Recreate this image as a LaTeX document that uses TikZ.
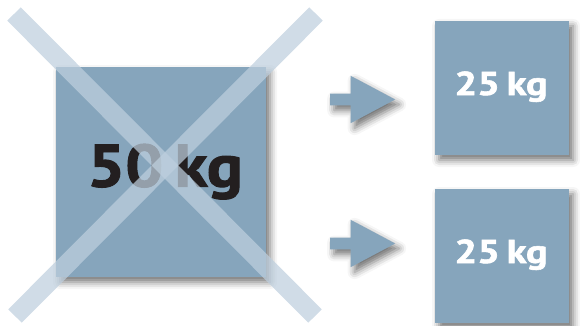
\documentclass[tikz,border=0pt]{standalone}
\usepackage{fontspec}
\setmainfont{PT Sans}
\newfontfamily\heavyfont{PT Sans}[FakeBold=1.6]
\usepackage{tikz}
\usetikzlibrary{positioning,shapes.arrows,shadows.blur}

\definecolor{boxblue}{HTML}{86A5BC}
\definecolor{crossblue}{RGB}{190,207,222}
\definecolor{inkblack}{HTML}{231F20}

\begin{document}
\begin{tikzpicture}[x=1pt, y=1pt,
  soft/.style={blur shadow={shadow xshift=4pt, shadow yshift=-5pt, shadow blur radius=7pt, shadow opacity=55}},
  weight/.style={fill=boxblue, draw=none, minimum size=#1, inner sep=0pt, soft},
  bigtag/.style={anchor=base, inner sep=0pt, text=inkblack, font=\heavyfont\bfseries\fontsize{60}{60}\selectfont},
  smalltag/.style={anchor=base, inner sep=0pt, text=white, font=\heavyfont\bfseries\fontsize{33}{33}\selectfont},
  split/.style={single arrow, fill=boxblue, draw=none, inner xsep=0pt, inner ysep=5.75pt, minimum height=65pt, minimum width=47pt,
    single arrow head extend=17.75pt, single arrow tip angle=56, single arrow head indent=0pt, anchor=tail, soft},
  cross/.style={crossblue, opacity=0.73, line width=19pt}
]
\useasboundingbox (0,0) rectangle (580,325);

\node[weight=210pt] (whole) at (161,153) {};
\node[weight=134pt] (halfA) at (502,237) {};
\node[weight=134pt] (halfB) at (502,69) {};

\node[bigtag] (wholeTag) at (165,138.3) {\scalebox{1.12}[1]{50\,kg}};
\node[smalltag] (halfATag) at (501,230) {\scalebox{1.22}[1]{25\,kg}};
\node[smalltag] (halfBTag) at (501,62) {\scalebox{1.22}[1]{25\,kg}};

\node[split] (toA) at (330,225.5) {};
\node[split] (toB) at (330,81.5) {};

% crossed out
\draw[cross] (14,311) -- (315,9);
\draw[cross] (316,311) -- (15,9);

\end{tikzpicture}
\end{document}
